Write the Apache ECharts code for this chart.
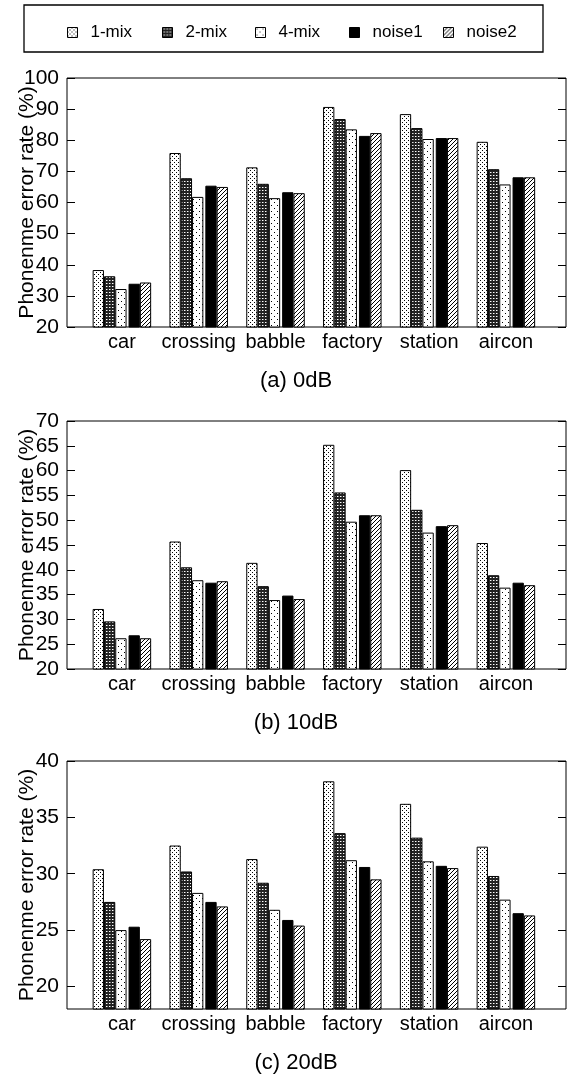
<!DOCTYPE html>
<html>
<head>
<meta charset="utf-8">
<script src="https://cdn.jsdelivr.net/npm/echarts@6/dist/echarts.min.js"></script>
<style>
  html, body { margin: 0; padding: 0; background: #fff; }
  #main { width: 567px; height: 1074px; }
</style>
</head>
<body>
<div id="main"></div>
<script>
var myChart = echarts.init(document.getElementById('main'));

// noise types on the x axis
var categories = ['car', 'crossing', 'babble', 'factory', 'station', 'aircon'];
var seriesNames = ['1-mix', '2-mix', '4-mix', 'noise1', 'noise2'];

// phoneme error rate (%), one row per series, 0dB
var db0 = [
    [38.3, 75.9, 71.3, 90.7, 88.4, 79.5],
    [36.3, 67.8, 66.0, 86.8, 83.9, 70.7],
    [32.2, 61.8, 61.4, 83.5, 80.4, 65.8],
    [33.9, 65.4, 63.3, 81.4, 80.7, 68.1],
    [34.3, 65.0, 63.0, 82.3, 80.7, 68.1]
];
// 10dB
var db10 = [
    [32.1, 45.7, 41.4, 65.2, 60.1, 45.4],
    [29.6, 40.5, 36.7, 55.6, 52.1, 38.9],
    [26.2, 37.9, 33.9, 49.7, 47.5, 36.4],
    [26.8, 37.4, 34.8, 51.0, 48.8, 37.4],
    [26.2, 37.7, 34.1, 51.0, 49.0, 36.9]
];
// 20dB
var db20 = [
    [30.4, 32.5, 31.3, 38.2, 36.2, 32.4],
    [27.5, 30.2, 29.2, 33.6, 33.2, 29.8],
    [25.0, 28.3, 26.8, 31.2, 31.1, 27.7],
    [25.3, 27.5, 25.9, 30.6, 30.7, 26.5],
    [24.2, 27.1, 25.4, 29.5, 30.5, 26.3]
];

var ticks0 = [20, 30, 40, 50, 60, 70, 80, 90, 100];
var ticks10 = [20, 25, 30, 35, 40, 45, 50, 55, 60, 65, 70];
var ticks20 = [20, 25, 30, 35, 40];

var captions = ['(a) 0dB', '(b) 10dB', '(c) 20dB'];

var FONT = '"Liberation Sans", Arial, Helvetica, sans-serif';

// little fill tiles, like the gnuplot patterns
function tile(w, h, draw) {
    var c = document.createElement('canvas');
    c.width = w; c.height = h;
    var ctx = c.getContext('2d');
    ctx.fillStyle = '#fff';
    ctx.fillRect(0, 0, w, h);
    draw(ctx);
    return c;
}
var fills = [
    // 1-mix: dense dots
    { image: tile(4, 4, function (ctx) {
        ctx.fillStyle = '#000';
        ctx.fillRect(0, 0, 1, 1);
        ctx.fillRect(2, 2, 1, 1);
    }), repeat: 'repeat' },
    // 2-mix: dark mesh
    { image: tile(3, 3, function (ctx) {
        ctx.fillStyle = '#222';
        ctx.fillRect(0, 0, 3, 3);
        ctx.fillStyle = '#fff';
        ctx.fillRect(1, 1, 1, 1);
        ctx.fillStyle = '#888';
        ctx.fillRect(2, 1, 1, 1);
    }), repeat: 'repeat' },
    // 4-mix: sparse dots
    { image: tile(6, 6, function (ctx) {
        ctx.fillStyle = '#000';
        ctx.fillRect(1, 1, 1, 1);
        ctx.fillRect(4, 4, 1, 1);
    }), repeat: 'repeat' },
    // noise1: solid
    '#000',
    // noise2: diagonal hatch
    { image: tile(4, 4, function (ctx) {
        ctx.strokeStyle = '#000';
        ctx.lineWidth = 1;
        ctx.beginPath();
        ctx.moveTo(-1, 5); ctx.lineTo(5, -1);
        ctx.moveTo(-1, 1); ctx.lineTo(1, -1);
        ctx.moveTo(3, 5); ctx.lineTo(5, 3);
        ctx.stroke();
    }), repeat: 'repeat' }
];

var panels = [
    { data: db0, ticks: ticks0, min: 20, max: 100, top: 78, height: 249 },
    { data: db10, ticks: ticks10, min: 20, max: 70, top: 421, height: 248 },
    { data: db20, ticks: ticks20, min: 18, max: 40, top: 761, height: 248 }
];

var grid = [], xAxis = [], yAxis = [], series = [], title = [];

panels.forEach(function (p, i) {
    // frame box
    grid.push({ left: 67, right: 1, top: p.top, height: p.height,
        show: true, borderColor: '#000', borderWidth: 1, backgroundColor: 'transparent' });
    // bars area
    grid.push({ left: 83.5, width: 460.8, top: p.top, height: p.height });

    xAxis.push({ type: 'value', gridIndex: 2 * i, show: false, min: 0, max: 1 });
    xAxis.push({
        type: 'category', gridIndex: 2 * i + 1, data: categories,
        axisLine: { show: false }, axisTick: { show: false },
        axisLabel: { color: '#000', fontSize: 20, fontFamily: FONT, margin: 5,
            interval: 0, hideOverlap: false }
    });

    yAxis.push({
        type: 'value', gridIndex: 2 * i, min: p.min, max: p.max,
        name: 'Phonenme error rate (%)', nameLocation: 'middle', nameGap: 29,
        nameMoveOverlap: false,
        nameTextStyle: { color: '#000', fontSize: 21, fontFamily: FONT },
        axisLine: { show: false },
        splitLine: { show: false },
        axisTick: { show: true, inside: true, length: 8, customValues: p.ticks,
            lineStyle: { color: '#000' } },
        axisLabel: { color: '#000', fontSize: 21, fontFamily: FONT, margin: 8,
            customValues: p.ticks }
    });
    yAxis.push({
        type: 'value', gridIndex: 2 * i, position: 'right', min: p.min, max: p.max,
        axisLine: { show: false }, splitLine: { show: false },
        axisTick: { show: true, inside: true, length: 8, customValues: p.ticks,
            lineStyle: { color: '#000' } },
        axisLabel: { show: false }
    });
    yAxis.push({ type: 'value', gridIndex: 2 * i + 1, min: p.min, max: p.max, show: false,
        splitLine: { show: false } });

    var yIdx = 3 * i + 2;
    seriesNames.forEach(function (name, s) {
        series.push({
            name: name, type: 'bar', xAxisIndex: 2 * i + 1, yAxisIndex: yIdx,
            data: p.data[s], barWidth: 11.3, barGap: '0%',
            itemStyle: { color: fills[s], borderColor: '#000', borderWidth: 1 }
        });
        if (s === 2) {
            // small gap between the mixes and the noise models
            series.push({ name: 'gap', type: 'bar', xAxisIndex: 2 * i + 1, yAxisIndex: yIdx,
                data: [], barWidth: 2, barGap: '0%' });
        }
    });

    title.push({
        text: captions[i], left: 296, textAlign: 'center',
        top: p.top + p.height + 43, padding: 0,
        textStyle: { color: '#000', fontSize: 22, fontWeight: 'normal', fontFamily: FONT }
    });
});

var legendLeft = [67, 162, 255, 349, 443];
var legend = seriesNames.map(function (name, s) {
    return {
        data: [name], left: legendLeft[s], top: 24, padding: 0,
        icon: 'rect', itemWidth: 10, itemHeight: 10, selectedMode: false,
        itemStyle: { borderColor: '#000', borderWidth: 1 },
        textStyle: { color: '#000', fontSize: 17, fontFamily: FONT, padding: [0, 0, 0, 8] }
    };
});

option = {
    animation: false,
    backgroundColor: '#fff',
    title: title,
    legend: legend,
    grid: grid,
    xAxis: xAxis,
    yAxis: yAxis,
    series: series,
    graphic: [{
        type: 'rect',
        shape: { x: 24, y: 5, width: 519, height: 47 },
        style: { fill: 'none', stroke: '#000', lineWidth: 1.3 }
    }]
};

myChart.setOption(option);
</script>
</body>
</html>
